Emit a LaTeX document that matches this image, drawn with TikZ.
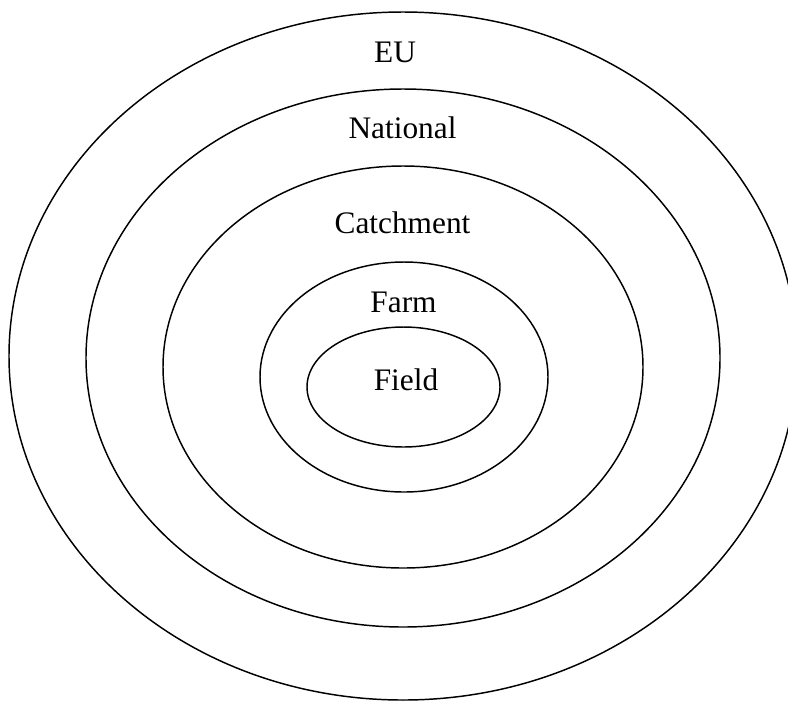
\documentclass[tikz,border=0pt]{standalone}
\usepackage{fontspec}
\setmainfont{Liberation Serif}
\begin{document}
\begin{tikzpicture}[x=0.75pt,y=-0.75pt,line width=1.1pt,
    lbl/.style={anchor=base,inner sep=0pt,font=\fontsize{23.5}{28}\selectfont}]
        \useasboundingbox (0,0) rectangle (788,701);
        % rings, outermost first
        \draw (403,356) ellipse [x radius=394, y radius=344];
        \draw (403,358) ellipse [x radius=317, y radius=269];
        \draw (403,367) ellipse [x radius=240, y radius=201];
        \draw (404,377) ellipse [x radius=144, y radius=115];
        \draw (403.5,387) ellipse [x radius=96.5, y radius=60];
        % labels
        \node[lbl] (eu) at (395,62) {EU};
        \node[lbl] (national) at (402.5,138) {National};
        \node[lbl] (catchment) at (402.5,233) {Catchment};
        \node[lbl] (farm) at (403.5,312) {Farm};
        \node[lbl] (field) at (406,390) {Field};
        \end{tikzpicture}
\end{document}
